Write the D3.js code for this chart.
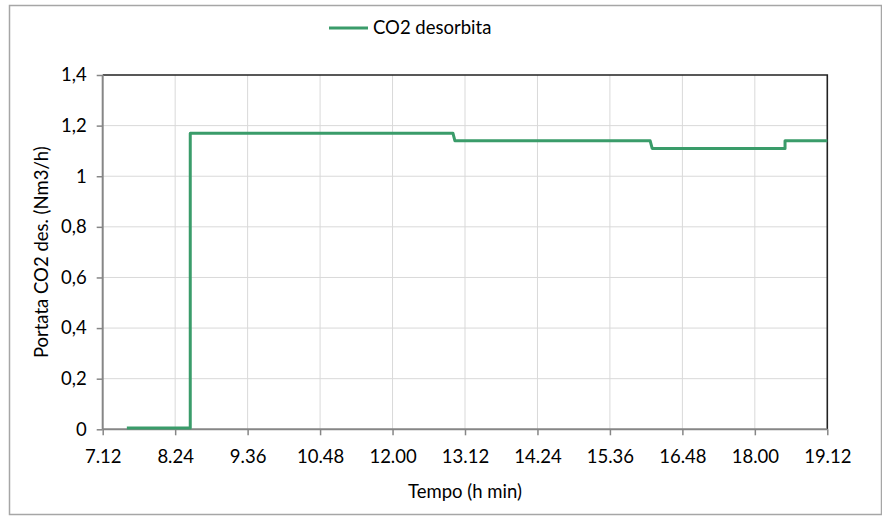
<!DOCTYPE html>
<html><head><meta charset="utf-8">
<script src="https://cdn.jsdelivr.net/npm/d3@7"></script>
<style>body{margin:0;background:#fff}svg{display:block}text{font-family:Lato,"Open Sans",sans-serif;fill:#000}</style>
</head><body><svg id="c" width="882" height="517"></svg>
<script>
// Data (time as "h.mm", flow in Nm3/h)
const seriesName = "CO2 desorbita";
const times = ["7.36","8.39","8.39","13.00","13.02","16.16","16.18","18.30","18.30","19.12"];
const flow  = [0.005, 0.005, 1.17, 1.17, 1.14, 1.14, 1.11, 1.11, 1.14, 1.14];
const xTickLabels = ["7.12","8.24","9.36","10.48","12.00","13.12","14.24","15.36","16.48","18.00","19.12"];
const yTicks = [0,0.2,0.4,0.6,0.8,1,1.2,1.4];
const xTitle = "Tempo (h min)";
const yTitle = "Portata CO2 des. (Nm3/h)";

const FS = 18.5;
const toMin = s => { const [h,m] = s.split(".").map(Number); return h*60+m; };
const svg = d3.select("#c");
const L=102.7, R=827.3, T=75, B=429.3;
const x = d3.scaleLinear().domain([toMin(xTickLabels[0]), toMin(xTickLabels[xTickLabels.length-1])]).range([L,R]);
const y = d3.scaleLinear().domain([0,1.4]).range([B,T]);

// outer border
svg.append("rect").attr("x",9.5).attr("y",5.5).attr("width",872).attr("height",509)
  .attr("fill","none").attr("stroke","#a6a6a6").attr("stroke-width",1.5);

// gridlines
svg.append("g").selectAll("line").data(yTicks.slice(1,-1)).join("line")
  .attr("x1",L).attr("x2",R).attr("y1",d=>y(d)).attr("y2",d=>y(d))
  .attr("stroke","#d9d9d9").attr("stroke-width",1);
svg.append("g").selectAll("line").data(xTickLabels.slice(1,-1)).join("line")
  .attr("x1",d=>x(toMin(d))).attr("x2",d=>x(toMin(d))).attr("y1",T).attr("y2",B)
  .attr("stroke","#d9d9d9").attr("stroke-width",1);

// plot border top/right
svg.append("path").attr("d",`M${L},${T}H${R}V${B}`).attr("fill","none").attr("stroke","#222").attr("stroke-width",1.6);

// axes
const fmtY = d => d3.format(".1f")(d).replace(/\.0$/,"").replace(".",",");
const yAxis = d3.axisLeft(y).tickValues(yTicks).tickFormat(fmtY).tickSize(6).tickPadding(10);
const gy = svg.append("g").attr("transform",`translate(${L},0)`).call(yAxis);
const xAxis = d3.axisBottom(x).tickValues(xTickLabels.map(toMin)).tickFormat((d,i)=>xTickLabels[i]).tickSize(6).tickPadding(15);
const gx = svg.append("g").attr("transform",`translate(0,${B})`).call(xAxis);
[gx,gy].forEach(g=>{
  g.select(".domain").attr("stroke","#868686").attr("stroke-width",2);
  g.selectAll(".tick line").attr("stroke","#868686").attr("stroke-width",1.5);
  g.selectAll(".tick text").attr("font-size",FS).attr("font-family","Lato").attr("fill","#000");
});
gy.select(".domain").attr("d",`M0,${T}V${B}`);
gx.select(".domain").attr("d",`M${L},0H${R}`);

// line
const data = times.map((t,i)=>({t:toMin(t), v:flow[i]}));
svg.append("path").datum(data).attr("fill","none").attr("stroke","#3a9c6a").attr("stroke-width",3)
  .attr("stroke-linejoin","round")
  .attr("d",d3.line().x(d=>x(d.t)).y(d=>y(d.v)));

// titles
svg.append("text").attr("x",(L+R)/2).attr("y",498).attr("text-anchor","middle").attr("font-size",FS).text(xTitle);
svg.append("text").attr("transform",`translate(48,${(T+B)/2}) rotate(-90)`).attr("text-anchor","middle").attr("font-size",FS).text(yTitle);

// legend
svg.append("line").attr("x1",329).attr("x2",368).attr("y1",28).attr("y2",28).attr("stroke","#3a9c6a").attr("stroke-width",3);
svg.append("text").attr("x",373).attr("y",33.5).attr("font-size",FS).text(seriesName);
</script></body></html>
